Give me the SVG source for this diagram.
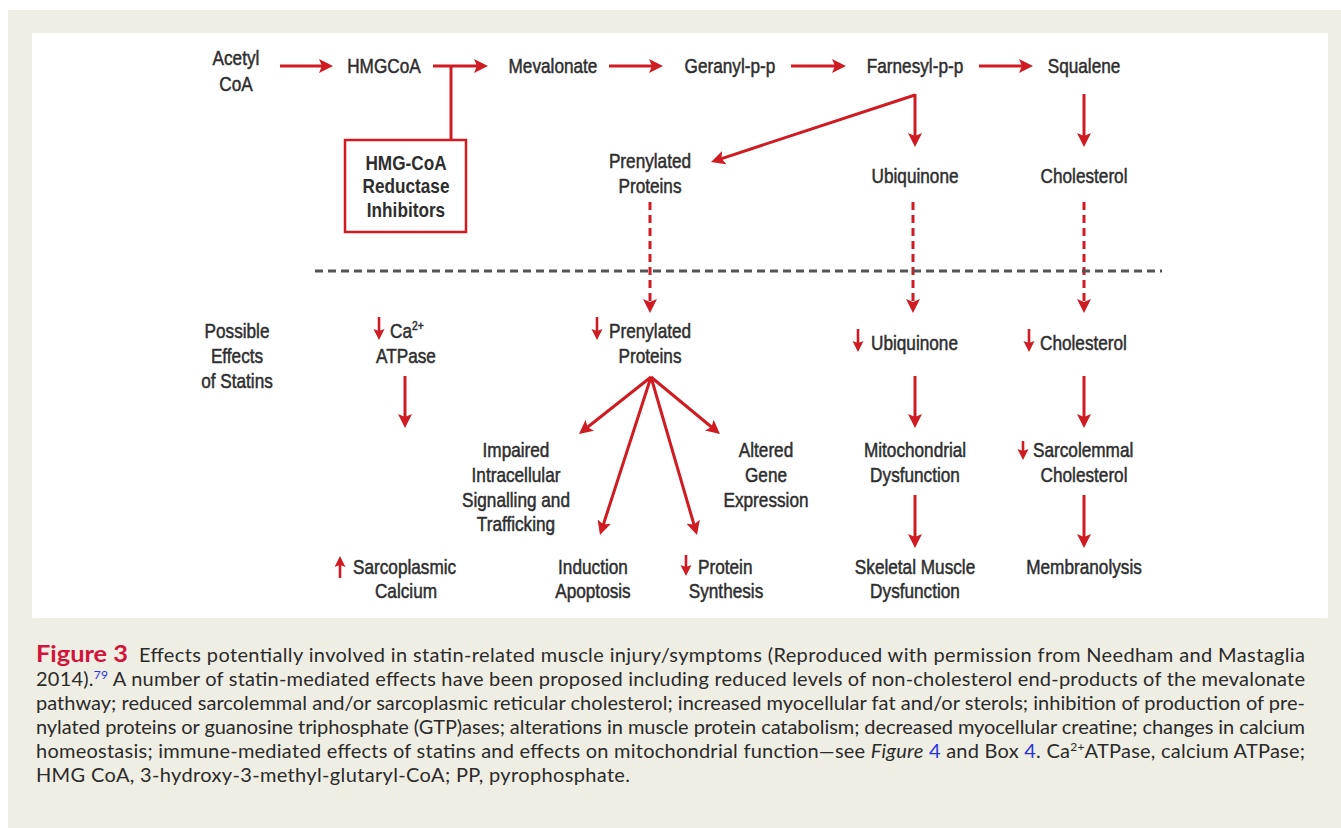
<svg xmlns="http://www.w3.org/2000/svg" width="1341" height="828" viewBox="0 0 1341 828">
<style>
.t{font-family:"Liberation Sans",Arial,sans-serif;font-size:20px;fill:#2e2e2e;stroke:#2e2e2e;stroke-width:0.5px;text-anchor:middle}
.b{font-weight:bold;stroke:none}
.s{text-anchor:start}
.a{stroke:#cf1b22;stroke-width:3;fill:none;marker-end:url(#ah)}
.d{stroke-dasharray:8 5}
.sa{stroke:#cf1b22;stroke-width:2.6;fill:none;marker-end:url(#sh)}
.cap{font-family:Lato,"Open Sans","Liberation Sans",sans-serif;font-size:20px;fill:#2a2a2a}
.fig{font-weight:bold;fill:#d2143a;font-size:22px}
.lk{fill:#2a32e0}
</style>
<defs>
<marker id="ah" markerUnits="userSpaceOnUse" markerWidth="16" markerHeight="14" refX="10" refY="7" orient="auto">
<path d="M0,0 L14,7 L0,14 L3,7 z" fill="#cf1b22"/>
</marker>
<marker id="sh" markerUnits="userSpaceOnUse" markerWidth="12" markerHeight="12" refX="7" refY="5.5" orient="auto">
<path d="M0,0 L11,5.5 L0,11 L2,5.5 z" fill="#cf1b22"/>
</marker>
</defs>
<rect x="8" y="10" width="1333" height="818" fill="#efeee4"/>
<rect x="32" y="33" width="1296" height="585" fill="#ffffff"/>

<g id="connectors">
<line class="a" x1="280" y1="66" x2="329" y2="66"/>
<line class="a" x1="433" y1="66" x2="484" y2="66"/>
<line x1="451" y1="66" x2="451" y2="140" stroke="#cf1b22" stroke-width="3"/>
<line class="a" x1="609" y1="66" x2="659" y2="66"/>
<line class="a" x1="791" y1="66" x2="842" y2="66"/>
<line class="a" x1="979" y1="66" x2="1029" y2="66"/>
<line class="a" x1="915" y1="95" x2="714.8" y2="160.8"/>
<line class="a" x1="915" y1="94" x2="915" y2="143"/>
<line class="a" x1="1084" y1="94" x2="1084" y2="143"/>
<line class="a d" x1="650" y1="202" x2="650" y2="309"/>
<line class="a d" x1="913" y1="202" x2="913" y2="309"/>
<line class="a d" x1="1084" y1="202" x2="1084" y2="309"/>
<line x1="315" y1="271" x2="1162" y2="271" stroke="#555555" stroke-width="3" stroke-dasharray="8 5"/>
<line class="a" x1="405" y1="376" x2="405" y2="424"/>
<line class="a" x1="651" y1="377" x2="582.1" y2="431.5"/>
<line class="a" x1="651" y1="377" x2="601.2" y2="531.2"/>
<line class="a" x1="651" y1="377" x2="695.9" y2="531.2"/>
<line class="a" x1="651" y1="377" x2="716.9" y2="431.5"/>
<line class="a" x1="915" y1="376" x2="915" y2="424"/>
<line class="a" x1="915" y1="495" x2="915" y2="544"/>
<line class="a" x1="1084" y1="376" x2="1084" y2="424"/>
<line class="a" x1="1084" y1="495" x2="1084" y2="544"/>
<line class="sa" x1="379" y1="317" x2="379" y2="336"/>
<line class="sa" x1="597" y1="317" x2="597" y2="336"/>
<line class="sa" x1="858" y1="329" x2="858" y2="348"/>
<line class="sa" x1="1029" y1="329" x2="1029" y2="348"/>
<line class="sa" x1="1023" y1="441" x2="1023" y2="456"/>
<line class="sa" x1="686" y1="555" x2="686" y2="572"/>
<line class="sa" x1="340" y1="578" x2="340" y2="560"/>
</g>

<rect x="345" y="140" width="121" height="92" fill="none" stroke="#cf1b22" stroke-width="2.5"/>

<g transform="scale(0.86,1)">
<g id="acetyl"><text class="t" x="274.4" y="65">Acetyl</text><text class="t" x="274.4" y="91">CoA</text></g>
<g id="hmgcoa"><text class="t" x="446.5" y="73">HMGCoA</text></g>
<g id="inhibitors">
<text class="t b" x="472.1" y="170">HMG-CoA</text>
<text class="t b" x="472.1" y="193">Reductase</text>
<text class="t b" x="472.1" y="217">Inhibitors</text>
</g>
<g id="mevalonate"><text class="t" x="643" y="73">Mevalonate</text></g>
<g id="geranyl"><text class="t" x="848.8" y="73">Geranyl-p-p</text></g>
<g id="farnesyl"><text class="t" x="1064" y="73">Farnesyl-p-p</text></g>
<g id="squalene"><text class="t" x="1260.5" y="73">Squalene</text></g>
<g id="prenylated"><text class="t" x="755.8" y="168">Prenylated</text><text class="t" x="755.8" y="193">Proteins</text></g>
<g id="ubiquinone"><text class="t" x="1064" y="183">Ubiquinone</text></g>
<g id="cholesterol"><text class="t" x="1260.5" y="183">Cholesterol</text></g>

<g id="possible"><text class="t" x="275.6" y="338">Possible</text><text class="t" x="275.6" y="363">Effects</text><text class="t" x="275.6" y="388">of Statins</text></g>
<g id="ca-atpase"><text class="t s" x="453.5" y="338">Ca<tspan font-size="12" dy="-8">2+</tspan></text><text class="t" x="472.1" y="363">ATPase</text></g>
<g id="sarcoplasmic"><text class="t s" x="410.5" y="574">Sarcoplasmic</text><text class="t" x="472.1" y="598">Calcium</text></g>
<g id="red-prenylated"><text class="t s" x="708.1" y="338">Prenylated</text><text class="t" x="755.8" y="363">Proteins</text></g>
<g id="impaired"><text class="t" x="600" y="457">Impaired</text><text class="t" x="600" y="482">Intracellular</text><text class="t" x="600" y="507">Signalling and</text><text class="t" x="600" y="531">Trafficking</text></g>
<g id="induction"><text class="t" x="689.5" y="574">Induction</text><text class="t" x="689.5" y="598">Apoptosis</text></g>
<g id="protein-synthesis"><text class="t s" x="811.6" y="574">Protein</text><text class="t" x="844.2" y="598">Synthesis</text></g>
<g id="altered"><text class="t" x="890.7" y="457">Altered</text><text class="t" x="890.7" y="482">Gene</text><text class="t" x="890.7" y="507">Expression</text></g>
<g id="red-ubiquinone"><text class="t s" x="1012.8" y="350">Ubiquinone</text></g>
<g id="mito"><text class="t" x="1064" y="457">Mitochondrial</text><text class="t" x="1064" y="482">Dysfunction</text></g>
<g id="skeletal"><text class="t" x="1064" y="574">Skeletal Muscle</text><text class="t" x="1064" y="598">Dysfunction</text></g>
<g id="red-cholesterol"><text class="t s" x="1209.3" y="350">Cholesterol</text></g>
<g id="sarcolemmal"><text class="t s" x="1201.2" y="457">Sarcolemmal</text><text class="t" x="1260.5" y="482">Cholesterol</text></g>
<g id="membranolysis"><text class="t" x="1260.5" y="574">Membranolysis</text></g>
</g>

<g id="caption">
<text class="cap fig" x="36" y="662" textLength="92" lengthAdjust="spacingAndGlyphs">Figure 3</text>
<text class="cap" x="139" y="662" textLength="1166" lengthAdjust="spacing">Effects potentially involved in statin-related muscle injury/symptoms (Reproduced with permission from Needham and Mastaglia</text>
<text class="cap" x="36" y="686" textLength="1269" lengthAdjust="spacing">2014).<tspan class="lk" font-size="12" dy="-7">79</tspan><tspan dy="7"> A number of statin-mediated effects have been proposed including reduced levels of non-cholesterol end-products of the mevalonate</tspan></text>
<text class="cap" x="36" y="710" textLength="1269" lengthAdjust="spacing">pathway; reduced sarcolemmal and/or sarcoplasmic reticular cholesterol; increased myocellular fat and/or sterols; inhibition of production of pre-</text>
<text class="cap" x="36" y="734" textLength="1269" lengthAdjust="spacing">nylated proteins or guanosine triphosphate (GTP)ases; alterations in muscle protein catabolism; decreased myocellular creatine; changes in calcium</text>
<text class="cap" x="36" y="758" textLength="1269" lengthAdjust="spacing">homeostasis; immune-mediated effects of statins and effects on mitochondrial function—see <tspan font-style="italic">Figure</tspan> <tspan class="lk">4</tspan> and Box <tspan class="lk">4</tspan>. Ca<tspan font-size="12" dy="-7">2+</tspan><tspan dy="7">ATPase, calcium ATPase;</tspan></text>
<text class="cap" x="36" y="782" textLength="594" lengthAdjust="spacing">HMG CoA, 3-hydroxy-3-methyl-glutaryl-CoA; PP, pyrophosphate.</text>
</g>
</svg>
